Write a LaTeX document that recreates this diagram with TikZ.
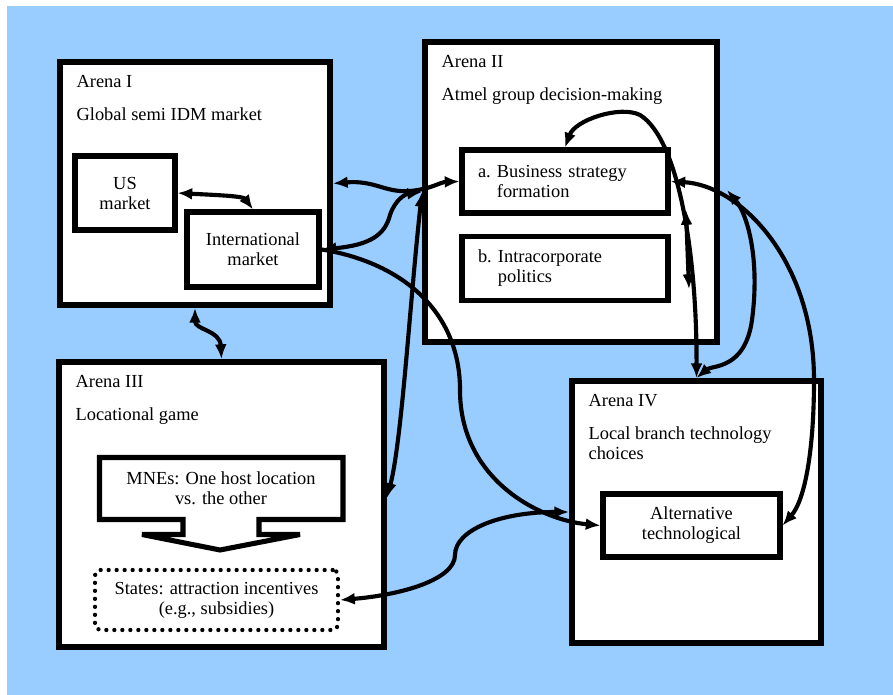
\documentclass[tikz,border=0pt]{standalone}
\usepackage{fontspec}
\setmainfont{Liberation Serif}
\usetikzlibrary{arrows.meta,positioning}
\definecolor{skyback}{RGB}{153,204,255}

\begin{document}
\begin{tikzpicture}[x=0.75pt,y=-0.75pt,
  font=\fontsize{13.8}{15}\selectfont,
  arena/.style={draw,fill=white,line width=4.5pt},
  box/.style={draw,fill=white,line width=3.8pt,align=center,inner sep=0pt},
  dotbox/.style={draw,fill=white,line width=3.2pt,dash pattern=on 0pt off 6pt,
    line cap=round,rounded corners=4pt,align=center,inner sep=0pt},
  ar/.style={{Latex[length=11pt,width=9pt]}-{Latex[length=11pt,width=9pt]},line width=3.1pt},
  ar1/.style={-{Latex[length=11pt,width=9pt]},line width=3.1pt},
  lab/.style={align=left,inner sep=0pt}]

\useasboundingbox (0,0) rectangle (893,695);
\fill[white] (0,0) rectangle (893,695);
\fill[skyback] (7,6) rectangle (893,695);

% the four arenas
\node[arena,minimum width=202.5pt,minimum height=182.25pt] (a1) at (195,183.5) {};
\node[arena,minimum width=219pt,minimum height=225pt] (a2) at (571,192) {};
\node[arena,minimum width=243.75pt,minimum height=213.75pt] (a3) at (221.5,504.5) {};
\node[arena,minimum width=186.75pt,minimum height=196.5pt] (a4) at (696.5,512) {};

\node[lab,below right=12pt and 14.5pt of a1.north west] (t1)
  {Arena I\\[9.75pt]Global semi IDM market};
\node[lab,below right=12pt and 14.5pt of a2.north west] (t2)
  {Arena II\\[9.75pt]Atmel group decision-making};
\node[lab,below right=12pt and 14.5pt of a3.north west] (t3)
  {Arena III\\[9.75pt]Locational game};
\node[lab,below right=12pt and 14.5pt of a4.north west] (t4)
  {Arena IV\\[9.75pt]Local branch technology\\choices};

% inner boxes
\node[box,minimum width=75pt,minimum height=55.5pt] (us) at (125,193) {US\\market};
\node[box,minimum width=99pt,minimum height=56.25pt] (int) at (253,249.5) {International\\market};
\node[box,align=left,text width=130.5pt,inner xsep=12pt,minimum height=47.25pt] (bus) at (565,181.5)
  {a.~Business strategy\\\phantom{a.~}formation};
\node[box,align=left,text width=130.5pt,inner xsep=12pt,minimum height=48pt,below=13.5pt of bus] (pol)
  {b.~Intracorporate\\\phantom{b.~}politics};
\node[box,minimum width=132.75pt,minimum height=47.25pt] (alt) at (691.5,525.5) {Alternative\\technological};

% block arrow of arena III
\draw[fill=white,line width=3.8pt] (99.5,457.5) -- (343,457.5) -- (343,519.5) -- (259,519.5)
  -- (259,534.5) -- (300,534.5) -- (220,550) -- (142,534.5) -- (183,534.5) -- (183,519.5)
  -- (99.5,519.5) -- cycle;
\node[lab,align=center] (mne) at (221,488) {MNEs: One host location\\vs. the other};
\node[dotbox,minimum width=182.25pt,minimum height=45pt] (st) at (216.5,600)
  {States: attraction incentives\\(e.g., subsidies)};

\coordinate (p1) at (686,210);
\coordinate (p2) at (689,289);
\coordinate (p3) at (727,190);

% links
\draw[ar] (us.east) .. controls (215,195) and (243,196) .. (int.north);
\draw[ar] (a1.east) .. controls (375,180) and (385,193) .. (410,191)
  .. controls (432,189) and (440,182) .. (bus.west);
\draw[ar] (int.east) .. controls (370,245) and (385,235) .. (390,215)
  .. controls (395,200) and (405,194) .. (a2.west);
\draw[ar] (a2.west) .. controls (410,300) and (402,440) .. ([yshift=5pt]a3.east);
\draw[ar1] (int.east) .. controls (400,262) and (460,310) .. (460,390)
  .. controls (460,480) and (540,520) .. (alt.west);
\draw[ar] (a1.south) .. controls (195,330) and (220,330) .. (a3.north);
\draw[ar] (bus.north) .. controls (575,120) and (620,105) .. (640,115)
  .. controls (680,140) and (697,260) .. (a4.north);
\draw[ar] (p1) -- (p2);
\draw[ar] (a4.north) .. controls (712,365) and (745,370) .. (752,320)
  .. controls (760,260) and (748,215) .. (p3);
\draw[ar] (bus.east) .. controls (740,185) and (814,260) .. (814,380)
  .. controls (814,450) and (805,500) .. (alt.east);
\draw[ar] (st.east) .. controls (400,595) and (455,580) .. (455,555)
  .. controls (455,530) and (500,512) .. (a4.west);
\end{tikzpicture}
\end{document}
